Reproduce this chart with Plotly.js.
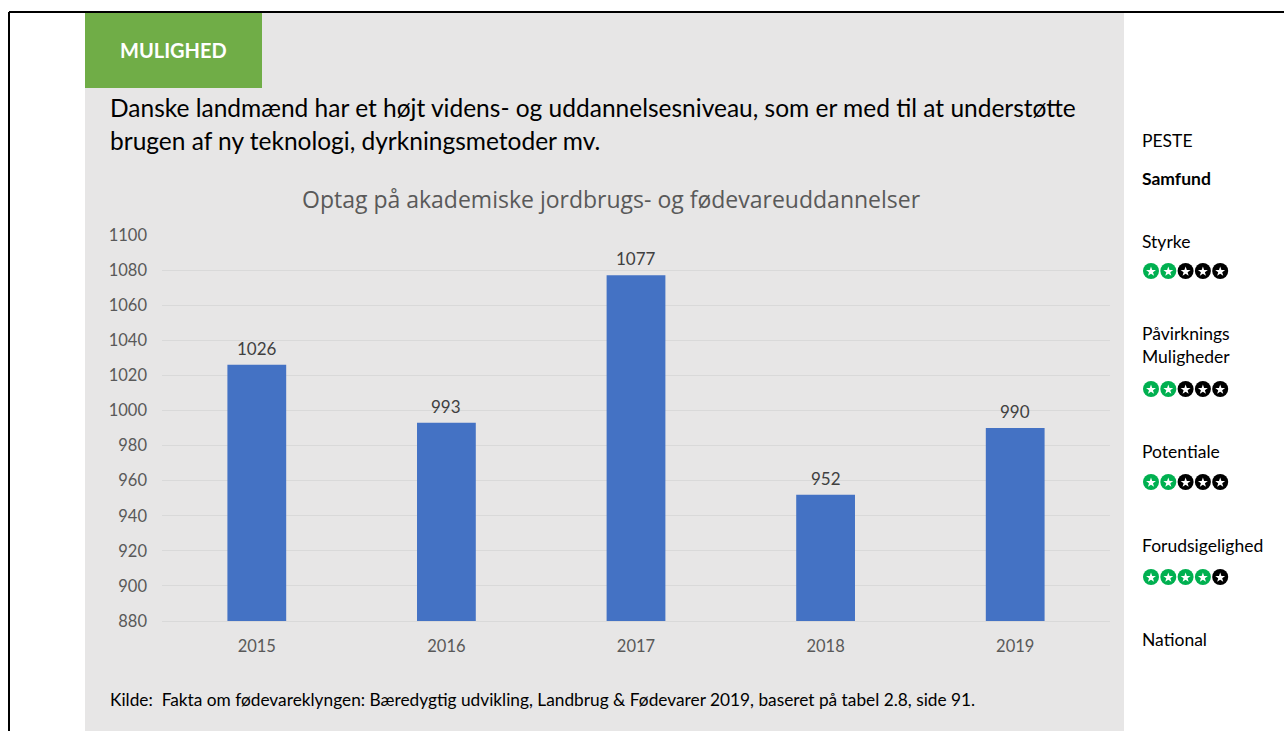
<!DOCTYPE html>
<html><head><meta charset="utf-8">
<script src="https://cdn.plot.ly/plotly-3.0.1.min.js"></script>
<style>body{margin:0;background:#fff}#chart{width:1284px;height:731px}</style>
</head><body><div id="chart"></div>
<script>
const years = ['2015','2016','2017','2018','2019'];
const optag = [1026, 993, 1077, 952, 990];
const yTicks = [880,900,920,940,960,980,1000,1020,1040,1060,1080,1100];
const panelLabels = ['Styrke','Påvirknings<br>Muligheder','Potentiale','Forudsigelighed'];
const panelScores = [2, 2, 2, 4];
const maxScore = 5;

const W = 1284, H = 731;
const L = 162, R = 1110, T = 235, B = 621;
const px = x => (x - L) / (R - L);
const py = y => (B - y) / (B - T);
const FONT = 'Lato, "Open Sans", sans-serif';

const shapes = [
  {type:'rect', xref:'paper', yref:'paper', x0:px(85), x1:px(1124), y0:py(13), y1:py(731), fillcolor:'#e7e6e6', line:{width:0}, layer:'below'},
  {type:'rect', xref:'paper', yref:'paper', x0:px(85), x1:px(262), y0:py(13), y1:py(88), fillcolor:'#70ad47', line:{width:0}, layer:'below'},
  {type:'line', xref:'paper', yref:'paper', x0:px(9), x1:px(1284), y0:py(12), y1:py(12), line:{color:'#000', width:2}},
  {type:'line', xref:'paper', yref:'paper', x0:px(9), x1:px(9), y0:py(12), y1:py(731), line:{color:'#000', width:2}}
];

function starIcon(cx, cy, color){
  const r = 8;
  shapes.push({type:'circle', xref:'paper', yref:'paper', x0:px(cx-r), x1:px(cx+r), y0:py(cy+r), y1:py(cy-r),
    fillcolor:color, line:{width:0}});
  const ro = 5.2, ri = 2.1;
  let d = '';
  for (let k=0;k<10;k++){
    const rr = k%2===0 ? ro : ri;
    const a = -Math.PI/2 + k*Math.PI/5;
    const x = cx + rr*Math.cos(a), y = cy + 0.6 + rr*Math.sin(a);
    d += (k===0?'M':'L') + px(x).toFixed(5) + ',' + py(y).toFixed(5);
  }
  d += 'Z';
  shapes.push({type:'path', xref:'paper', yref:'paper', path:d, fillcolor:'#ffffff', line:{width:0}});
}

const ann = [];
function txt(x, y, text, size, color, opts){
  ann.push(Object.assign({xref:'paper', yref:'paper', x:px(x), y:py(y), text:text, showarrow:false,
    xanchor:'left', yanchor:'middle', borderpad:0, xshift:-1, font:{family:FONT, size:size, color:color}}, opts||{}));
}
txt(173, 50, '<b>MULIGHED</b>', 20, '#ffffff', {xanchor:'center', xshift:0});
txt(110, 108, 'Danske landmænd har et højt videns- og uddannelsesniveau, som er med til at understøtte', 24.5, '#000000');
txt(110, 140, 'brugen af ny teknologi, dyrkningsmetoder mv.', 24.5, '#000000');
txt(611, 199, 'Optag på akademiske jordbrugs- og fødevareuddannelser', 23, '#595959', {xanchor:'center', xshift:0, font:{family:'"Open Sans", sans-serif', size:23, color:'#595959'}});
txt(110, 699, 'Kilde:  Fakta om fødevareklyngen: Bæredygtig udvikling, Landbrug & Fødevarer 2019, baseret på tabel 2.8, side 91.', 17.3, '#000000');

txt(1142, 140, 'PESTE', 17.5, '#000000');
txt(1142, 179, '<b>Samfund</b>', 17.5, '#000000');
const labelY = [241, 345, 451, 545];
const starY = [271, 389, 482, 577];
panelLabels.forEach((lab,i)=>{
  txt(1142, labelY[i], lab, 17.5, '#000000', {align:'left'});
  for (let k=0;k<maxScore;k++) starIcon(1151 + k*17.3, starY[i], k < panelScores[i] ? '#00b050' : '#000000');
});
txt(1142, 639, 'National', 17.5, '#000000');

years.forEach((yr,i)=>{
  ann.push({xref:'x', yref:'y', x:i, y:optag[i], text:String(optag[i]), showarrow:false,
    yanchor:'bottom', yshift:4, font:{family:FONT, size:17, color:'#404040'}});
});

const trace = {
  type:'bar', x:years, y:optag, marker:{color:'#4472c4'}, width:0.31, hoverinfo:'skip'
};

const layout = {
  width:W, height:H, margin:{l:L, r:W-R, t:T, b:H-B, pad:0},
  paper_bgcolor:'#ffffff', plot_bgcolor:'rgba(0,0,0,0)',
  showlegend:false, shapes:shapes, annotations:ann,
  xaxis:{type:'category', range:[-0.5, years.length-0.5], showgrid:false, showline:true, linecolor:'#d9d9d9', linewidth:1, ticks:'',
    tickfont:{family:FONT, size:16.5, color:'#595959'}, ticklabelstandoff:10, zeroline:false},
  yaxis:{range:[880,1100], tickvals:yTicks, ticktext:yTicks.map(String), showgrid:true, gridcolor:'#d9d9d9', gridwidth:1,
    zeroline:false, showline:false, ticks:'', tickfont:{family:FONT, size:16.5, color:'#595959'}, ticklabelstandoff:14}
};

Plotly.newPlot('chart', [trace], layout, {displayModeBar:false, staticPlot:true});
</script></body></html>
